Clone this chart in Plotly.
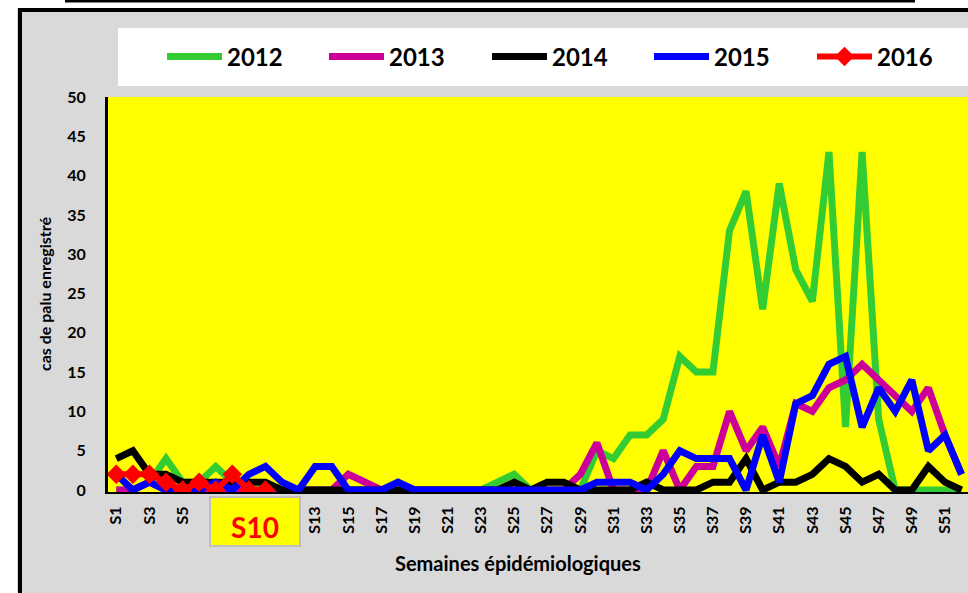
import plotly.graph_objects as go

# Epidemiological weeks S1..S52
weeks = [f"S{i}" for i in range(1, 53)]
tick_weeks = [f"S{i}" for i in range(1, 53, 2)]

cases_2012 = [0, 0, 1, 4, 1, 1, 3, 1, 0, 0, 0, 0, 0, 0, 0, 0, 0, 0, 0, 0,
              0, 0, 0, 1, 2, 0, 0, 0, 0, 5, 4, 7, 7, 9, 17, 15, 15, 33, 38, 23,
              39, 28, 24, 43, 8, 43, 9, 0, 0, 0, 0, 0]
cases_2013 = [0, 0, 1, 0, 0, 0, 0, 0, 0, 0, 0, 0, 0, 0, 2, 1, 0, 0, 0, 0,
              0, 0, 0, 0, 0, 0, 0, 0, 2, 6, 0, 0, 0, 5, 0, 3, 3, 10, 5, 8,
              3, 11, 10, 13, 14, 16, 14, 12, 10, 13, 7, 2]
cases_2014 = [4, 5, 2, 2, 1, 1, 1, 1, 1, 1, 0, 0, 0, 0, 0, 0, 0, 0, 0, 0,
              0, 0, 0, 0, 1, 0, 1, 1, 0, 0, 0, 0, 1, 0, 0, 0, 1, 1, 4, 0,
              1, 1, 2, 4, 3, 1, 2, 0, 0, 3, 1, 0]
cases_2015 = [2, 0, 1, 0, 0, 0, 1, 0, 2, 3, 1, 0, 3, 3, 0, 0, 0, 1, 0, 0,
              0, 0, 0, 0, 0, 0, 0, 0, 0, 1, 1, 1, 0, 2, 5, 4, 4, 4, 0, 7,
              1, 11, 12, 16, 17, 8, 13, 10, 14, 5, 7, 2]
cases_2016 = [2, 2, 2, 1, 0, 1, 0, 2, 0, 0]

series = [
    ("2012", cases_2012, "#33CC33"),
    ("2013", cases_2013, "#CC0099"),
    ("2014", cases_2014, "#000000"),
    ("2015", cases_2015, "#0000FF"),
]

FONT = "Lato"

# plot area in pixels
L, R, T, B = 108, 968, 97, 492
W, H = 968, 593


def px(x):
    return (x - L) / (R - L)


def py(y):
    return (B - y) / (B - T)


# one legend box per year, laid out in a single row
legend_ids = ["legend", "legend2", "legend3", "legend4", "legend5"]
legend_left = [162, 324, 487, 649, 812]

fig = go.Figure()
for (name, vals, color), lid in zip(series, legend_ids):
    fig.add_trace(go.Scatter(
        x=weeks[:len(vals)], y=vals, name=name, mode="lines",
        line=dict(color=color, width=7), legend=lid,
    ))
fig.add_trace(go.Scatter(
    x=weeks[:len(cases_2016)], y=cases_2016, name="2016", mode="lines+markers",
    line=dict(color="#FF0000", width=6),
    marker=dict(symbol="diamond", size=15, color="#FF0000"),
    legend=legend_ids[4],
))

shapes = [
    # white margin outside the chart frame
    dict(type="rect", xref="paper", yref="paper", x0=px(-5), x1=px(17), y0=py(600), y1=py(-5),
         fillcolor="white", line_width=0, layer="below"),
    dict(type="rect", xref="paper", yref="paper", x0=px(-5), x1=px(975), y0=py(8), y1=py(-5),
         fillcolor="white", line_width=0, layer="below"),
    # chart frame
    dict(type="line", xref="paper", yref="paper", x0=px(20), x1=px(20), y0=py(8), y1=py(600),
         line=dict(color="black", width=4)),
    dict(type="line", xref="paper", yref="paper", x0=px(18), x1=px(975), y0=py(10), y1=py(10),
         line=dict(color="black", width=4)),
    # title box edge
    dict(type="line", xref="paper", yref="paper", x0=px(65), x1=px(915), y0=py(1), y1=py(1),
         line=dict(color="black", width=3)),
    # legend background
    dict(type="rect", xref="paper", yref="paper", x0=px(118), x1=px(980), y0=py(86), y1=py(28),
         fillcolor="white", line_width=0, layer="below"),
]

annotations = [
    dict(text="cas de palu enregistré", textangle=-90, xref="paper", yref="paper",
         x=px(44), y=py(294), showarrow=False, xanchor="center", yanchor="middle",
         font=dict(family=FONT, size=16, color="black", weight="bold")),
    dict(text="Semaines épidémiologiques", xref="paper", yref="paper",
         x=px(518), y=py(563), showarrow=False, xanchor="center", yanchor="middle",
         font=dict(family=FONT, size=20, color="black", weight="bold")),
    dict(text="S10", xref="paper", yref="paper", x=px(255), y=py(521), showarrow=False,
         xanchor="center", yanchor="middle", width=86, height=45,
         bgcolor="#FFFF00", bordercolor="#BFBFBF", borderwidth=2, valign="bottom",
         align="center",
         font=dict(family=FONT, size=28, color="#FF0000", weight="bold")),
]

layout_legends = {}
for lid, left in zip(legend_ids, legend_left):
    layout_legends[lid] = dict(
        orientation="h", xref="paper", yref="paper",
        x=px(left), y=py(57), xanchor="left", yanchor="middle",
        bgcolor="rgba(0,0,0,0)", itemwidth=55,
        font=dict(family=FONT, size=24, color="black", weight="bold"),
    )

fig.update_layout(
    width=W, height=H,
    margin=dict(l=L, r=W - R, t=T, b=H - B, pad=0),
    paper_bgcolor="#D9D9D9",
    plot_bgcolor="#FFFF00",
    font=dict(family=FONT, color="black"),
    showlegend=True,
    xaxis=dict(
        type="category", categoryorder="array", categoryarray=weeks,
        range=[-0.5, 51.39], tickmode="array", tickvals=tick_weeks, ticktext=tick_weeks,
        tickangle=-90, showgrid=False, zeroline=False,
        showline=True, linecolor="black", linewidth=2, ticks="",
        ticklabelstandoff=6,
        tickfont=dict(family=FONT, size=16, color="black", weight="bold"),
    ),
    yaxis=dict(
        range=[-0.25, 50], tickmode="array", tickvals=list(range(0, 51, 5)),
        showgrid=False, zeroline=False, showline=True, linecolor="black", linewidth=3,
        ticks="", ticklabelstandoff=16,
        tickfont=dict(family=FONT, size=16, color="black", weight="bold"),
    ),
    shapes=shapes,
    annotations=annotations,
    **layout_legends,
)

fig.write_html("out.html")
